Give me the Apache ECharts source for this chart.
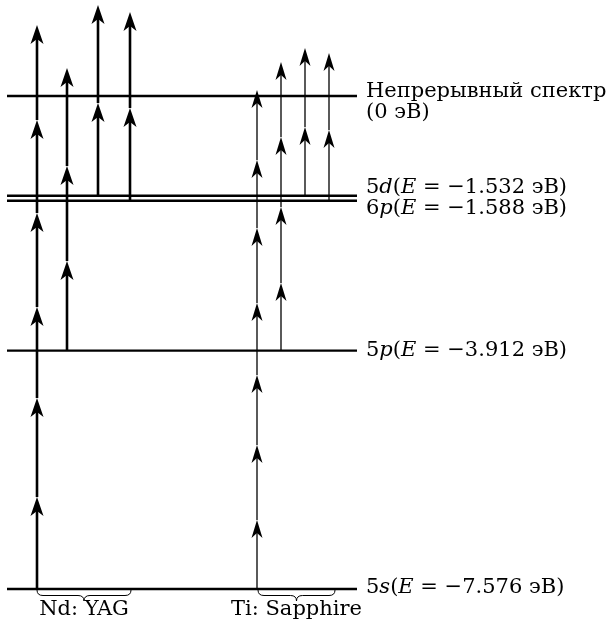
<!DOCTYPE html>
<html><head><meta charset="utf-8">
<script src="https://cdn.jsdelivr.net/npm/echarts@6/dist/echarts.min.js"></script>
<style>html,body{margin:0;padding:0;background:#fff}#c{width:606px;height:630px}</style>
</head><body><div id="c"></div>
<script>
// ---- data ----
// energy levels (eV) as drawn in the diagram
const levelEnergy = [0, -1.532, -1.61, -3.912, -7.576];
const levelOrbitalNum = ['', '5', '6', '5', '5'];
const levelOrbitalLetter = ['', 'd', 'p', 'p', 's'];
const levelValueText = ['(0 эВ)', '−1.532 эВ', '−1.588 эВ', '−3.912 эВ', '−7.576 эВ'];
const continuumName = 'Непрерывный спектр';

// Nd:YAG photon columns: horizontal position, start energy, arrow tip energies
const ndColumnsX = [30, 60, 91, 123];
const ndStart = [-7.576, -3.912, -1.532, -1.61];
const ndTips = [
  [-6.163, -4.641, -3.243, -1.798, -0.369, 1.091],
  [-2.536, -1.076, 0.430],
  [-0.108, 1.399],
  [-0.184, 1.291]
];
// Ti:Sapphire photon columns
const tiColumnsX = [250, 274, 298, 322];
const tiStart = [-7.576, -3.912, -1.532, -1.61];
const tiTips = [
  [-6.516, -5.363, -4.288, -3.181, -2.029, -0.984, 0.092],
  [-2.874, -1.706, -0.630, 0.523],
  [-0.476, 0.738],
  [-0.523, 0.661]
];
const laserNames = ['Nd: YAG', 'Ti: Sapphire'];
const braceRanges = [[30, 124], [251, 328]];

// ---- build ----
function segments(xs, starts, tips) {
  const out = [];
  xs.forEach((x, i) => {
    let prev = starts[i];
    tips[i].forEach(t => { out.push([x, prev, t]); prev = t; });
  });
  return out;
}
const FONT = 'DejaVu Serif';
const FS = 21;
const rich = {
  n: {fontFamily: FONT, fontSize: FS, fill: '#000'},
  i: {fontFamily: FONT, fontSize: FS, fontStyle: 'italic', fill: '#000'}
};
function levelLabel(i) {
  return '{n|' + levelOrbitalNum[i] + '}{i|' + levelOrbitalLetter[i] + '}{n|(}{i|E}{n| = ' + levelValueText[i] + ')}';
}
const labelOffsets = [0, -8, 8, 0, -1];

function arrowRender(lw, hw, hl, notch) {
  return function (params, api) {
    const x = api.value(0);
    const p0 = api.coord([x, api.value(1)]);
    const p1 = api.coord([x, api.value(2)]);
    const tx = p1[0], ty = p1[1];
    return {type: 'group', children: [
      {type: 'line', shape: {x1: p0[0], y1: p0[1], x2: tx, y2: ty + hl * 0.6},
       style: {stroke: '#000', lineWidth: lw}},
      {type: 'polygon', shape: {points: [[tx, ty], [tx + hw / 2, ty + hl], [tx, ty + hl - notch], [tx - hw / 2, ty + hl]]},
       style: {fill: '#000'}}
    ]};
  };
}

const chart = echarts.init(document.getElementById('c'), null, {renderer: 'canvas'});
chart.setOption({
  animation: false,
  grid: {left: 7, top: 4.9, width: 350, height: 611.7},
  xAxis: {type: 'value', min: 0, max: 350, show: false},
  yAxis: {type: 'value', min: -8, max: 1.4, show: false},
  series: [
    { // levels
      type: 'custom', clip: false,
      data: levelEnergy.map(e => [0, e]),
      encode: {x: 0, y: 1},
      renderItem: function (params, api) {
        const e = api.value(1);
        const a = api.coord([0, e]), b = api.coord([350, e]);
        const i = params.dataIndex;
        const children = [{type: 'line', shape: {x1: a[0], y1: a[1], x2: b[0], y2: b[1]},
          style: {stroke: '#000', lineWidth: 2.4}}];
        if (i === 0) {
          children.push({type: 'text', style: {text: continuumName, x: b[0] + 9, y: a[1] - 4,
            verticalAlign: 'middle', fontFamily: FONT, fontSize: FS, fill: '#000'}});
          children.push({type: 'text', style: {text: levelValueText[0], x: b[0] + 9, y: a[1] + 17,
            verticalAlign: 'middle', fontFamily: FONT, fontSize: FS, fill: '#000'}});
        } else {
          children.push({type: 'text', style: {text: levelLabel(i), rich: rich, x: b[0] + 9, y: a[1] + labelOffsets[i],
            verticalAlign: 'middle', fontFamily: FONT, fontSize: FS, fill: '#000'}});
        }
        return {type: 'group', children: children};
      }
    },
    { // Nd:YAG photons
      type: 'custom', clip: false,
      data: segments(ndColumnsX, ndStart, ndTips),
      encode: {x: 0, y: [1, 2]},
      renderItem: arrowRender(2.6, 13, 19, 5)
    },
    { // Ti:Sapphire photons
      type: 'custom', clip: false,
      data: segments(tiColumnsX, tiStart, tiTips),
      encode: {x: 0, y: [1, 2]},
      renderItem: arrowRender(1.3, 11, 18, 5)
    },
    { // braces and laser names
      type: 'custom', clip: false,
      data: braceRanges.map(r => [r[0], r[1], levelEnergy[4]]),
      encode: {x: [0, 1], y: 2},
      renderItem: function (params, api) {
        const a = api.coord([api.value(0), api.value(2)]);
        const b = api.coord([api.value(1), api.value(2)]);
        const y = a[1] + 1, h = 11, r = 6;
        const m = (a[0] + b[0]) / 2;
        const d = 'M' + a[0] + ',' + y +
          ' Q' + a[0] + ',' + (y + h / 2) + ' ' + (a[0] + r) + ',' + (y + h / 2) +
          ' L' + (m - r) + ',' + (y + h / 2) +
          ' Q' + m + ',' + (y + h / 2) + ' ' + m + ',' + (y + h) +
          ' Q' + m + ',' + (y + h / 2) + ' ' + (m + r) + ',' + (y + h / 2) +
          ' L' + (b[0] - r) + ',' + (y + h / 2) +
          ' Q' + b[0] + ',' + (y + h / 2) + ' ' + b[0] + ',' + y;
        return {type: 'group', children: [
          {type: 'path', shape: {pathData: d}, style: {stroke: '#000', fill: null, lineWidth: 1}},
          {type: 'text', style: {text: laserNames[params.dataIndex], x: m, y: a[1] + 21,
            align: 'center', verticalAlign: 'middle', fontFamily: FONT, fontSize: FS, fill: '#000'}}
        ]};
      }
    }
  ]
});
</script></body></html>
